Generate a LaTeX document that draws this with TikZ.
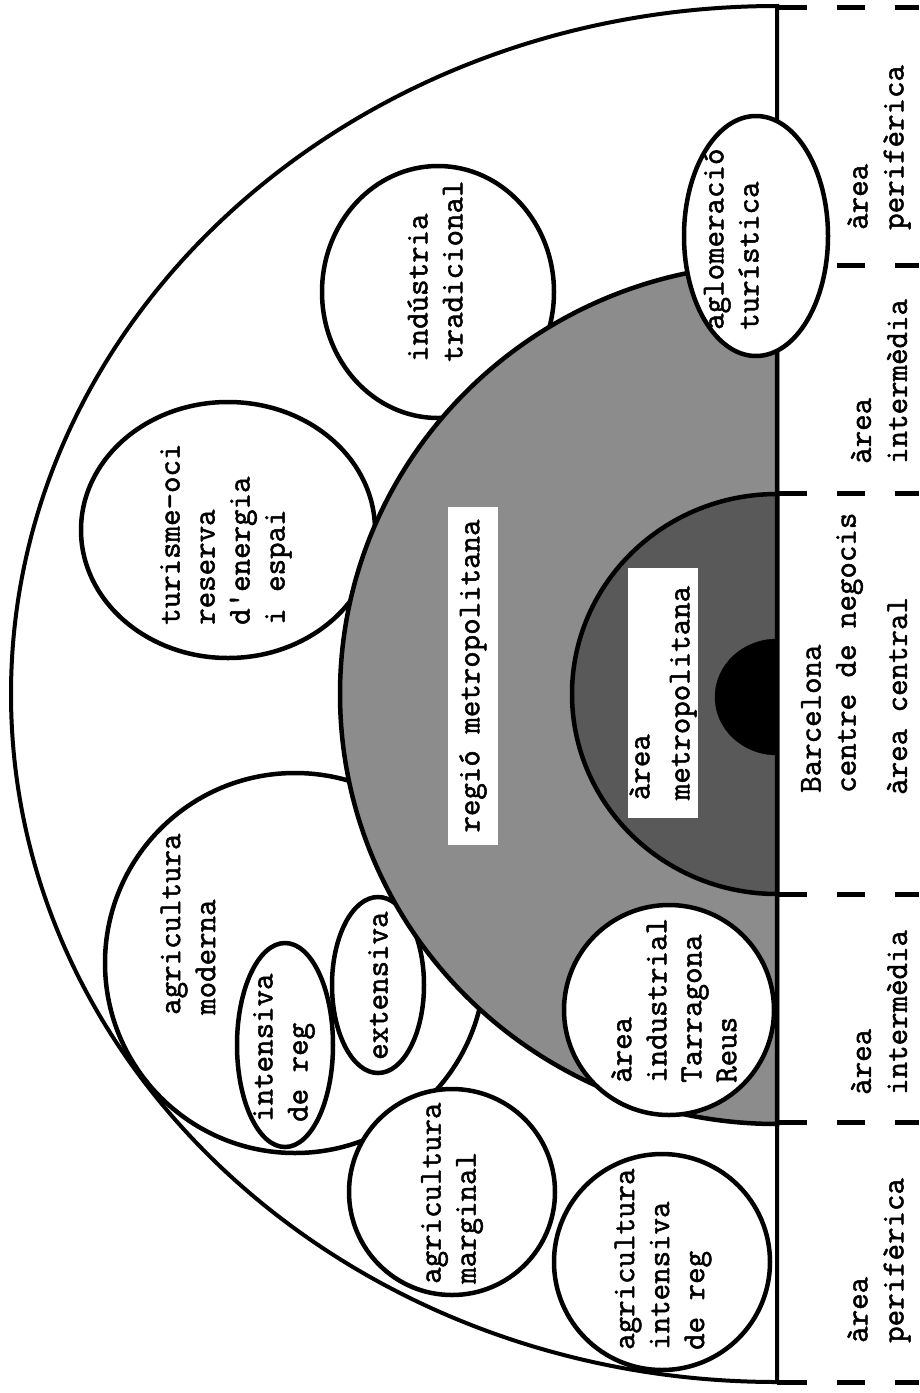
\documentclass[tikz,border=0pt]{standalone}
\usepackage{fontspec}
\newfontfamily\typefont{Latin Modern Mono}[FakeBold=1.6]
\usetikzlibrary{calc}
\def\halfdisc[#1](#2)(#3:#4){\draw[#1] ($(#2)+(0,#4)$) arc (90:270:#3 and #4) -- cycle;}
\tikzset{
	rim/.style={line width=4.5pt},
	spot/.style={line width=4.5pt, fill=white},
	lbl/.style={rotate=90, align=left, inner sep=0pt, font=\typefont\fontsize{32}{35}\selectfont},
	tag/.style={lbl, fill=white, inner xsep=12pt, inner ysep=11pt},
	band/.style={lbl, anchor=west, font=\typefont\fontsize{32}{36}\selectfont},
	divider/.style={line width=5pt}
}

\begin{document}
\begin{tikzpicture}[x=1pt, y=-1pt]
		\useasboundingbox (0,0) rectangle (919,1393);
		%%%%% START %%%%%
		
		\halfdisc[line width=4pt, fill=white](777,694)(766:688);
		
		\draw[spot] (295,963) circle (190);
		\draw[spot] (228,530) ellipse (147 and 128);
		\draw[spot] (438,292) ellipse (116 and 126);
		\draw[spot] (285,1045) ellipse (48 and 102);
		\draw[spot] (378,985) ellipse (46 and 88);
		\draw[spot] (452,1192) circle (103);
		\draw[spot] (662,1262) circle (108);
		
		\halfdisc[rim, fill=black!45](777,694)(437:430);
		\halfdisc[rim, fill=black!65](777,694)(205:200);
		\halfdisc[fill=black](777,697)(62:58);
		
		\draw[spot] (669,1010) circle (105);
		
		\draw[line width=4pt] (777,7) -- (777,1382);
		\draw[spot] (756,236) ellipse (72 and 120);
		
		\foreach \y in {7,493,894,1122,1382}
			\draw[divider] (777,\y) -- (807,\y);
		\foreach \y in {7,265,493,894,1122,1382}{
			\draw[divider] (837,\y) -- (865,\y);
			\draw[divider] (895,\y) -- (919,\y);
		}
		
		\node[tag] (regio) at (473,676) {regió metropolitana};
		\node[tag, inner xsep=18pt, inner ysep=1pt, font=\typefont\fontsize{32}{40}\selectfont] (amb) at (663,693) {àrea\\metropolitana};
		
		\node[lbl, anchor=west] (agint) at (663,1350) {agricultura\\intensiva\\de reg};
		\node[lbl, anchor=west] (agmarg) at (452,1284) {agricultura\\marginal};
		\node[lbl, anchor=west] (tgn) at (674,1083) {àrea\\industrial\\Tarragona\\Reus};
		\node[lbl, anchor=west] (agmod) at (188,1015) {agricultura\\moderna};
		\node[lbl, anchor=west] (intreg) at (284,1122) {intensiva\\de reg};
		\node[lbl, anchor=west] (ext) at (378,1060) {extensiva};
		\node[lbl, anchor=west] (oci) at (226,625) {turisme-oci\\reserva\\d'energia\\i espai};
		\node[lbl, anchor=west] (indtr) at (435,362) {indústria\\tradicional};
		\node[lbl, anchor=west] (turis) at (731,330) {aglomeració\\turística};
		\node[lbl, anchor=west] (bcn) at (832,793) {Barcelona\\centre de negocis};
		
		\node[band] (perif1) at (879,230) {àrea\\perifèrica};
		\node[band] (inter1) at (879,464) {àrea\\intermèdia};
		\node[band] (centr) at (897,795) {àrea central};
		\node[band] (inter2) at (879,1095) {àrea\\intermèdia};
		\node[band] (perif2) at (879,1343) {àrea\\perifèrica};
		
		%%%%% END %%%%%
\end{tikzpicture}
\end{document}
